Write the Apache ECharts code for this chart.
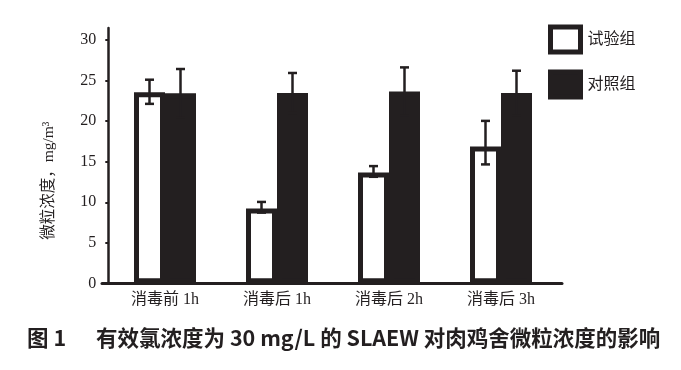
<!DOCTYPE html>
<html>
<head>
<meta charset="utf-8">
<script src="https://cdn.jsdelivr.net/npm/echarts@6/dist/echarts.min.js"></script>
<style>html,body{margin:0;padding:0;background:#fff;}#c{width:681px;height:370px;}</style>
</head>
<body>
<div id="c"></div>
<script>
// ---- data ----
const categories = ['消毒前 1h', '消毒后 1h', '消毒后 2h', '消毒后 3h'];
const seriesNames = ['试验组', '对照组'];
const testMean = [23.57, 9.23, 13.66, 16.88];
const testLow  = [22.14, 8.72, 13.14, 14.67];
const testHigh = [25.12, 10.04, 14.46, 20.04];
const ctrlMean = [23.45, 23.48, 23.66, 23.48];
const ctrlLow  = [20.46, 21.01, 20.68, 20.73];
const ctrlHigh = [26.44, 25.95, 26.64, 26.23];
const yTicks = [0, 5, 10, 15, 20, 25, 30];
const yMax = 31.5;
const captionLabel = '图 1';
const captionText = '有效氯浓度为 30 mg/L 的 SLAEW 对肉鸡舍微粒浓度的影响';
const yName = '微粒浓度，mg/m³';

// ---- style ----
const INK = '#231f20';
const SERIF = "'Liberation Serif', 'Noto Sans CJK SC', serif";
const SANS = "'Noto Sans CJK SC', sans-serif";
const BAR_W = 31;
const BORDER = 5;

function errRender(dx) {
  return function (params, api) {
    const hi = api.coord([api.value(0), api.value(2)]);
    const lo = api.coord([api.value(0), api.value(1)]);
    const x = hi[0] + dx;
    const cw = 4.5;
    const st = { stroke: INK, lineWidth: 2.5 };
    return {
      type: 'group',
      children: [
        { type: 'line', shape: { x1: x, y1: hi[1], x2: x, y2: lo[1] }, style: st },
        { type: 'line', shape: { x1: x - cw, y1: hi[1], x2: x + cw, y2: hi[1] }, style: st },
        { type: 'line', shape: { x1: x - cw, y1: lo[1], x2: x + cw, y2: lo[1] }, style: st }
      ]
    };
  };
}

const chart = echarts.init(document.getElementById('c'), null, { renderer: 'canvas' });
chart.setOption({
  animation: false,
  backgroundColor: '#fff',
  title: [
    { text: captionLabel, left: 22, top: 322, padding: 5, textStyle: { fontFamily: SANS, fontSize: 21.5, fontWeight: 'bold', color: INK } },
    { text: captionText, left: 91, top: 322, padding: 5, textStyle: { fontFamily: SANS, fontSize: 21.5, fontWeight: 'bold', color: INK } }
  ],
  legend: {
    orient: 'vertical',
    left: 543, top: 19.5,
    itemWidth: 30, itemHeight: 25, itemGap: 15,
    icon: 'rect',
    textStyle: { fontFamily: SERIF, fontSize: 16, color: INK, padding: [0, 0, 0, 2] },
    data: [
      { name: seriesNames[0], itemStyle: { color: '#fff', borderColor: INK, borderWidth: BORDER } },
      { name: seriesNames[1], itemStyle: { color: INK, borderColor: INK, borderWidth: BORDER } }
    ]
  },
  grid: [
    { left: 109, right: 124, top: 28, bottom: 86.7 },
    { left: 102, right: 119, top: 28, bottom: 86.7 }
  ],
  xAxis: [
    {
      type: 'category', data: categories, gridIndex: 0,
      axisLine: { show: false }, axisTick: { show: false },
      axisLabel: { fontFamily: SERIF, fontSize: 16, color: INK, margin: 8 }
    },
    {
      type: 'value', gridIndex: 1, min: 0, max: 1,
      axisLine: { show: true, lineStyle: { color: INK, width: 3 } },
      axisTick: { show: false }, axisLabel: { show: false }, splitLine: { show: false }
    }
  ],
  yAxis: [
    {
      type: 'value', gridIndex: 0, min: 0, max: yMax, interval: 5, offset: 0.7,
      name: yName, nameLocation: 'middle', nameGap: 52,
      nameTextStyle: { fontFamily: SERIF, fontSize: 15.5, color: INK, padding: [0, 50, 0, 0] },
      axisLine: { show: true, lineStyle: { color: INK, width: 2.5 } },
      axisTick: { show: true, inside: false, length: 3, lineStyle: { color: INK, width: 2 }, customValues: yTicks },
      axisLabel: { fontFamily: SERIF, fontSize: 16, color: INK, margin: 12, customValues: yTicks,
        formatter: function (v) { return yTicks.indexOf(v) >= 0 ? String(v) : ''; } },
      splitLine: { show: false }
    },
    { type: 'value', gridIndex: 1, show: false, min: 0, max: 1 }
  ],
  series: [
    {
      name: seriesNames[0], type: 'bar', data: testMean, barWidth: BAR_W, barGap: '0%',
      itemStyle: { color: '#fff', borderColor: INK, borderWidth: BORDER }
    },
    {
      name: seriesNames[1], type: 'bar', data: ctrlMean, barWidth: BAR_W, barGap: '0%',
      itemStyle: { color: INK, borderColor: INK, borderWidth: BORDER }
    },
    {
      type: 'custom', name: 'errTest', renderItem: errRender(-BAR_W / 2), z: 5,
      data: categories.map((c, i) => [i, testLow[i], testHigh[i]])
    },
    {
      type: 'custom', name: 'errCtrl', renderItem: errRender(BAR_W / 2), z: 5,
      data: categories.map((c, i) => [i, ctrlLow[i], ctrlHigh[i]])
    }
  ]
});
</script>
</body>
</html>
